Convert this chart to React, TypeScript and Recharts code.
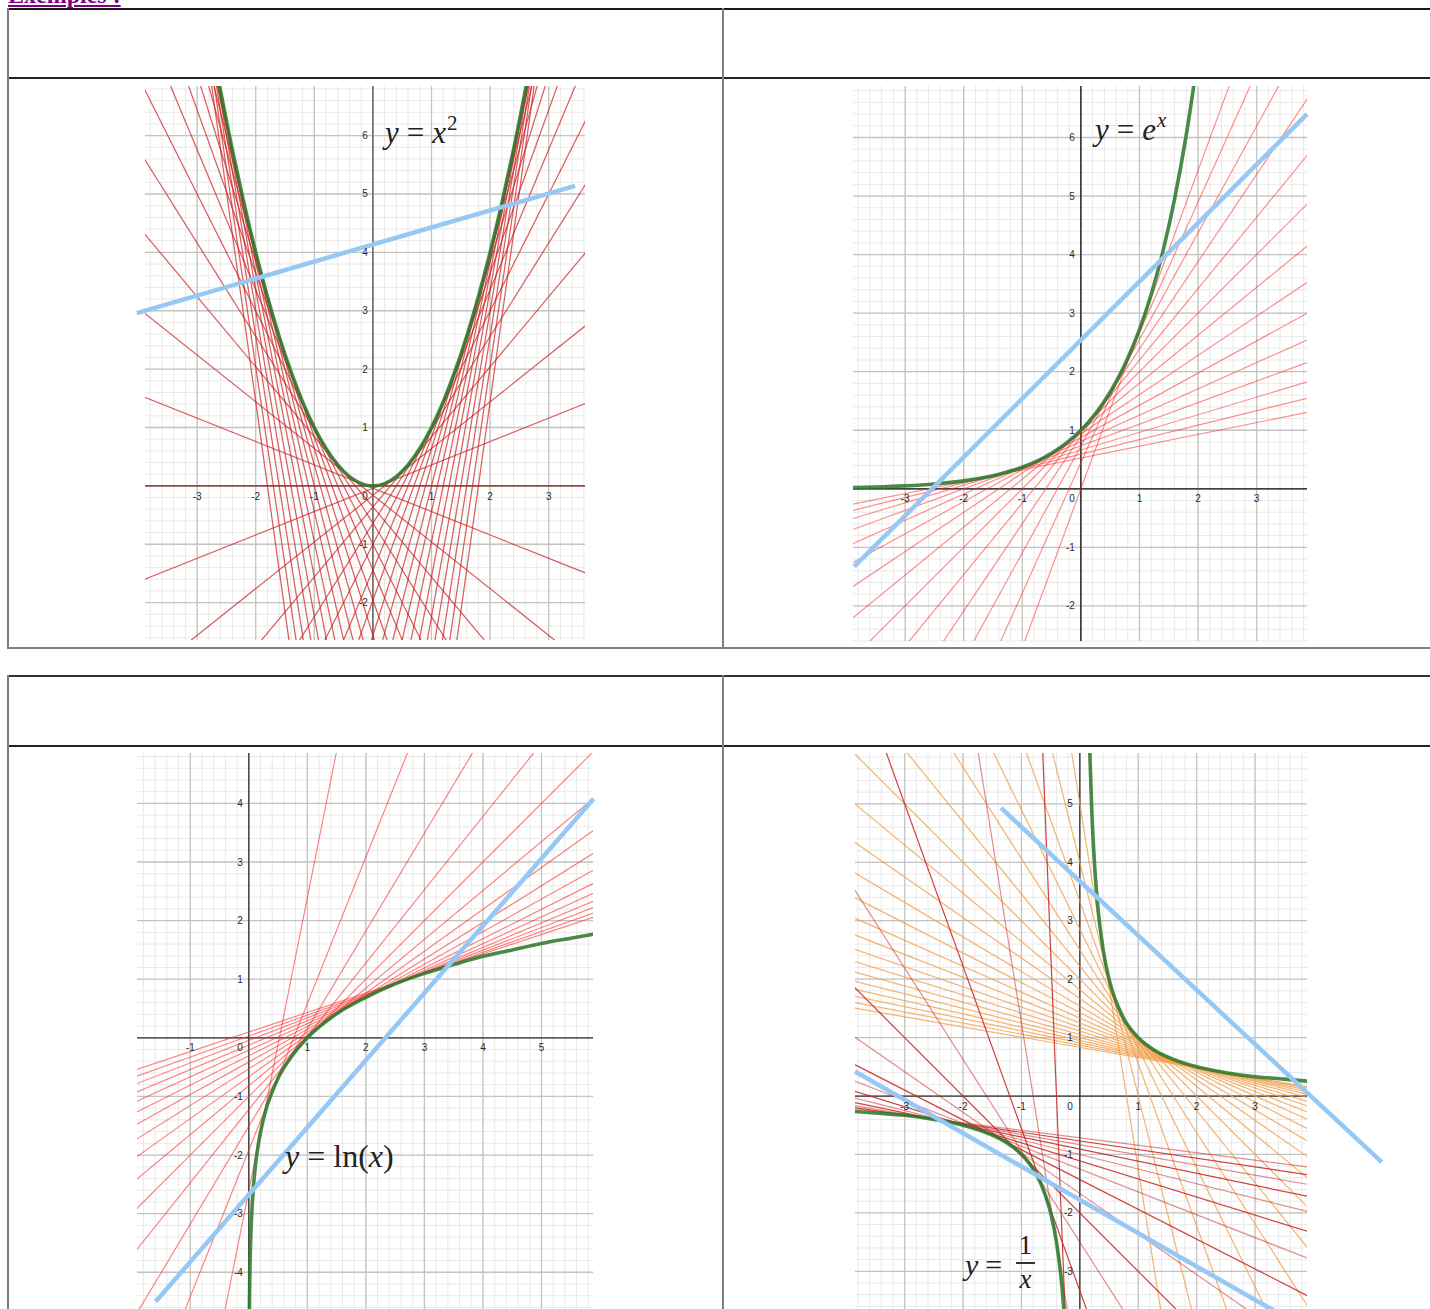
import React from "react";
import {
  ComposedChart,
  Line,
  XAxis,
  YAxis,
  CartesianGrid,
  ReferenceLine,
  ReferenceDot,
} from "recharts";

// ---------- y = x^2 ----------
const squareX = [-2.7, -2.4, -2.2, -2, -1.8, -1.6, -1.4, -1.2, -1, -0.8, -0.6, -0.4, -0.2, 0, 0.2, 0.4, 0.6, 0.8, 1, 1.2, 1.4, 1.6, 1.8, 2, 2.2, 2.4, 2.7];
const squareY = [7.29, 5.76, 4.84, 4, 3.24, 2.56, 1.96, 1.44, 1, 0.64, 0.36, 0.16, 0.04, 0, 0.04, 0.16, 0.36, 0.64, 1, 1.44, 1.96, 2.56, 3.24, 4, 4.84, 5.76, 7.29];
const squareSlopes = [-7.2, -6.8, -6.4, -6, -5.6, -5.2, -4.8, -4.4, -4, -3.6, -3.2, -2.8, -2.4, -2, -1.6, -1.2, -0.8, -0.4, 0, 0.4, 0.8, 1.2, 1.6, 2, 2.4, 2.8, 3.2, 3.6, 4, 4.4, 4.8, 5.2, 5.6, 6, 6.4, 6.8, 7.2];
const squareIntercepts = [-12.96, -11.56, -10.24, -9, -7.84, -6.76, -5.76, -4.84, -4, -3.24, -2.56, -1.96, -1.44, -1, -0.64, -0.36, -0.16, -0.04, 0, -0.04, -0.16, -0.36, -0.64, -1, -1.44, -1.96, -2.56, -3.24, -4, -4.84, -5.76, -6.76, -7.84, -9, -10.24, -11.56, -12.96];
const squareBlue = [{ x: -4.03, y: 2.96 }, { x: 3.45, y: 5.14 }];
const squareXTicks = [-3, -2, -1, 1, 2, 3];
const squareYTicks = [-2, -1, 1, 2, 3, 4, 5, 6];

// ---------- y = e^x ----------
const expX = [-3.95, -3.5, -3, -2.5, -2, -1.5, -1, -0.75, -0.5, -0.25, 0, 0.25, 0.5, 0.75, 1, 1.2, 1.4, 1.6, 1.8, 2];
const expY = [0.019, 0.03, 0.05, 0.082, 0.135, 0.223, 0.368, 0.472, 0.607, 0.779, 1, 1.284, 1.649, 2.117, 2.718, 3.32, 4.055, 4.953, 6.05, 7.389];
const expSlopes = [0.202, 0.247, 0.301, 0.368, 0.449, 0.549, 0.67, 0.819, 1, 1.221, 1.492, 1.822, 2.226, 2.718];
const expIntercepts = [0.525, 0.592, 0.663, 0.736, 0.808, 0.878, 0.938, 0.983, 1, 0.977, 0.895, 0.729, 0.445, 0];
const expBlue = [{ x: -3.87, y: -1.33 }, { x: 3.86, y: 6.4 }];
const expXTicks = [-3, -2, -1, 1, 2, 3];
const expYTicks = [-2, -1, 1, 2, 3, 4, 5, 6];

// ---------- y = ln(x) ----------
const lnX = [0.008, 0.01, 0.015, 0.02, 0.03, 0.05, 0.075, 0.1, 0.15, 0.2, 0.3, 0.4, 0.5, 0.7, 1, 1.5, 2, 2.5, 3, 3.5, 4, 4.5, 5, 5.5, 5.95];
const lnY = [-4.83, -4.61, -4.2, -3.91, -3.51, -3.0, -2.59, -2.3, -1.9, -1.61, -1.2, -0.92, -0.69, -0.36, 0, 0.41, 0.69, 0.92, 1.1, 1.25, 1.39, 1.5, 1.61, 1.7, 1.78];
const lnSlopes = [5, 2.5, 1.667, 1.25, 1, 0.833, 0.714, 0.625, 0.556, 0.5, 0.455, 0.417, 0.385, 0.357, 0.333];
const lnIntercepts = [-2.609, -1.916, -1.511, -1.223, -1, -0.818, -0.664, -0.53, -0.412, -0.307, -0.212, -0.125, -0.044, 0.03, 0.099];
const lnBlue = [{ x: -1.59, y: -4.5 }, { x: 5.89, y: 4.08 }];
const lnXTicks = [-1, 1, 2, 3, 4, 5];
const lnYTicks = [-4, -3, -2, -1, 1, 2, 3, 4];

// ---------- y = 1/x ----------
const invPosX = [0.165, 0.2, 0.25, 0.3, 0.4, 0.5, 0.6, 0.75, 1, 1.25, 1.5, 2, 2.5, 3, 3.5, 3.95];
const invPosY = [6.06, 5, 4, 3.33, 2.5, 2, 1.67, 1.33, 1, 0.8, 0.67, 0.5, 0.4, 0.33, 0.29, 0.25];
const invNegX = [-3.9, -3.5, -3, -2.5, -2, -1.5, -1.25, -1, -0.75, -0.6, -0.5, -0.4, -0.3, -0.25, -0.21];
const invNegY = [-0.26, -0.29, -0.33, -0.4, -0.5, -0.67, -0.8, -1, -1.33, -1.67, -2, -2.5, -3.33, -4, -4.76];
const invOrangeSlopes = [-6.25, -4, -2.778, -2.041, -1.563, -1.235, -1, -0.826, -0.694, -0.592, -0.51, -0.444, -0.391, -0.346, -0.309, -0.277, -0.25, -0.227, -0.207, -0.189, -0.174];
const invOrangeIntercepts = [5, 4, 3.333, 2.857, 2.5, 2.222, 2, 1.818, 1.667, 1.538, 1.429, 1.333, 1.25, 1.176, 1.111, 1.053, 1, 0.952, 0.909, 0.87, 0.833];
const invRedSlopes = [-25, -6.25, -2.778, -1.563, -1, -0.694, -0.51, -0.391, -0.309, -0.25, -0.207, -0.174, -0.148, -0.128];
const invRedIntercepts = [-10, -5, -3.333, -2.5, -2, -1.667, -1.429, -1.25, -1.111, -1, -0.909, -0.833, -0.769, -0.714];
const invBlueUpper = [{ x: -1.35, y: 4.93 }, { x: 5.17, y: -1.13 }];
const invBlueLower = [{ x: -3.85, y: 0.42 }, { x: 3.6, y: -3.83 }];
const invXTicks = [-3, -2, -1, 1, 2, 3];
const invYTicks = [-3, -2, -1, 1, 2, 3, 4, 5];

type Pt = { x: number; y: number };
const zip = (xs: number[], ys: number[]): Pt[] => xs.map((x, i) => ({ x, y: ys[i] }));

// grid positions (every 0.2 and every 1)
const gridValues = (lo: number, hi: number, step: number) => {
  const out: number[] = [];
  for (let i = Math.ceil(lo / step - 1e-9); i * step <= hi + 1e-9; i++) {
    out.push(Math.round(i * step * 100) / 100);
  }
  return out;
};

interface Family {
  slopes: number[];
  intercepts: number[];
  color: string;
  opacity: number[];
  width: number;
}

interface PanelProps {
  left: number;
  top: number;
  width: number;
  height: number;
  margin: { top: number; right: number; bottom: number; left: number };
  xDomain: [number, number];
  yDomain: [number, number];
  xTicks: number[];
  yTicks: number[];
  families: Family[];
  curves: Pt[][];
  blue: Pt[][];
  axisColor: string;
  xLabelDy: number;
  yLabelDx: number;
}

const labelFont = '"Liberation Sans", Arial, sans-serif';

function Panel(p: PanelProps) {
  const [xa, xb] = p.xDomain;
  const [ya, yb] = p.yDomain;
  const seg = (m: number, b: number): Pt[] => [
    { x: xa - 1, y: m * (xa - 1) + b },
    { x: xb + 1, y: m * (xb + 1) + b },
  ];
  const tickText = (txt: string, dx: number, dy: number, anchor: string) => (props: any) => (
    <text
      x={props.cx + dx}
      y={props.cy + dy}
      textAnchor={anchor}
      dominantBaseline="central"
      fontSize={10}
      fontFamily={labelFont}
      fill="#2a2a2a"
    >
      {txt}
    </text>
  );

  return (
    <div style={{ position: "absolute", left: p.left, top: p.top }}>
      <ComposedChart width={p.width} height={p.height} margin={p.margin}>
        <XAxis type="number" dataKey="x" domain={p.xDomain} allowDataOverflow hide interval={0} />
        <YAxis type="number" dataKey="y" domain={p.yDomain} allowDataOverflow hide interval={0} />
        <CartesianGrid
          verticalValues={gridValues(xa, xb, 0.2)}
          horizontalValues={gridValues(ya, yb, 0.2)}
          stroke="#e9e9e9"
          strokeWidth={1}
        />
        <CartesianGrid
          verticalValues={gridValues(xa, xb, 1)}
          horizontalValues={gridValues(ya, yb, 1)}
          stroke="#c4c4c4"
          strokeWidth={1.3}
        />
        <Line
          data={[{ x: xa - 1, y: 0 }, { x: xb + 1, y: 0 }]}
          dataKey="y"
          type="linear"
          stroke={p.axisColor}
          strokeWidth={1.3}
          dot={false}
          activeDot={false}
          isAnimationActive={false}
        />
        <Line
          data={[{ x: 0, y: ya - 1 }, { x: 0, y: yb + 1 }]}
          dataKey="y"
          type="linear"
          stroke={p.axisColor}
          strokeWidth={1.3}
          dot={false}
          activeDot={false}
          isAnimationActive={false}
        />
        {p.families.flatMap((f, fi) =>
          f.slopes.map((m, i) => (
            <Line
              key={`t${fi}-${i}`}
              data={seg(m, f.intercepts[i])}
              dataKey="y"
              type="linear"
              stroke={f.color}
              strokeOpacity={f.opacity[i % f.opacity.length]}
              strokeWidth={f.width}
              dot={false}
              activeDot={false}
              isAnimationActive={false}
            />
          ))
        )}
        {p.curves.map((c, i) => (
          <Line
            key={`c${i}`}
            data={c}
            dataKey="y"
            type="monotone"
            stroke="#2f7a2f"
            strokeOpacity={0.88}
            strokeWidth={3.6}
            dot={false}
            activeDot={false}
            isAnimationActive={false}
          />
        ))}
        {p.blue.map((s, i) => (
          <ReferenceLine
            key={`b${i}`}
            segment={s}
            stroke="#96c8f6"
            strokeWidth={4.5}
            ifOverflow="visible"
            zIndex={1500}
          />
        ))}
        {p.xTicks.map((v) => (
          <ReferenceDot
            key={`xt${v}`}
            x={v}
            y={0}
            r={1}
            zIndex={1600}
            shape={tickText(String(v), 0, p.xLabelDy, "middle")}
          />
        ))}
        {p.yTicks.map((v) => (
          <ReferenceDot
            key={`yt${v}`}
            x={0}
            y={v}
            r={1}
            zIndex={1600}
            shape={tickText(String(v), p.yLabelDx, 0, "end")}
          />
        ))}
        <ReferenceDot
          x={0}
          y={0}
          r={1}
          zIndex={1600}
          shape={tickText("0", p.yLabelDx, p.xLabelDy, "end")}
        />
      </ComposedChart>
    </div>
  );
}

const mathFont = '"Liberation Serif", "DejaVu Serif", serif';

const rule = (l: number, t: number, w: number, h: number, c: string) => (
  <div style={{ position: "absolute", left: l, top: t, width: w, height: h, background: c }} />
);

export default function App() {
  return (
    <div
      style={{
        position: "fixed",
        left: 0,
        top: 0,
        width: 1430,
        height: 1309,
        overflow: "hidden",
        background: "#fff",
      }}
    >
      <div
        style={{
          position: "absolute",
          left: 8,
          top: -17,
          fontFamily: mathFont,
          fontWeight: "bold",
          fontSize: 24,
          lineHeight: "24px",
          color: "#800080",
          textDecoration: "underline",
          whiteSpace: "nowrap",
        }}
      >
        Exemples :
      </div>

      {/* table 1 */}
      {rule(8, 8, 1430, 2, "#1a1a1a")}
      {rule(8, 77, 1430, 2, "#222")}
      {rule(7, 8, 2, 641, "#7d7d7d")}
      {rule(722, 8, 2, 641, "#808080")}
      {rule(7, 647, 1430, 2, "#808080")}

      {/* table 2 */}
      {rule(8, 675, 1430, 2, "#333")}
      {rule(8, 745, 1430, 1.5, "#222")}
      {rule(7, 675, 2, 640, "#7d7d7d")}
      {rule(722, 675, 2, 640, "#808080")}

      <Panel
        left={128}
        top={80}
        width={474}
        height={566}
        margin={{ left: 17, right: 17, top: 6, bottom: 6 }}
        xDomain={[-3.89, 3.62]}
        yDomain={[-2.64, 6.85]}
        xTicks={squareXTicks}
        yTicks={squareYTicks}
        families={[
          { slopes: squareSlopes, intercepts: squareIntercepts, color: "#cc2020", opacity: [0.72], width: 1.25 },
        ]}
        curves={[zip(squareX, squareY)]}
        blue={[squareBlue]}
        axisColor="#555"
        xLabelDy={11}
        yLabelDx={-5}
      />

      <Panel
        left={838}
        top={80}
        width={484}
        height={566}
        margin={{ left: 15, right: 15, top: 6, bottom: 5 }}
        xDomain={[-3.89, 3.86]}
        yDomain={[-2.6, 6.88]}
        xTicks={expXTicks}
        yTicks={expYTicks}
        families={[
          { slopes: expSlopes, intercepts: expIntercepts, color: "#ff2a2a", opacity: [0.55], width: 1.15 },
        ]}
        curves={[zip(expX, expY)]}
        blue={[expBlue]}
        axisColor="#111"
        xLabelDy={10}
        yLabelDx={-6}
      />

      <Panel
        left={122}
        top={747}
        width={486}
        height={590}
        margin={{ left: 15, right: 15, top: 6, bottom: 12 }}
        xDomain={[-1.91, 5.88]}
        yDomain={[-4.9, 4.86]}
        xTicks={lnXTicks}
        yTicks={lnYTicks}
        families={[
          { slopes: lnSlopes, intercepts: lnIntercepts, color: "#ff2a2a", opacity: [0.6], width: 1.15 },
        ]}
        curves={[zip(lnX, lnY)]}
        blue={[lnBlue]}
        axisColor="#333"
        xLabelDy={10}
        yLabelDx={-6}
      />

      <Panel
        left={840}
        top={747}
        width={560}
        height={620}
        margin={{ left: 15, right: 93, top: 6, bottom: 8 }}
        xDomain={[-3.85, 3.89]}
        yDomain={[-4.5, 5.87]}
        xTicks={invXTicks}
        yTicks={invYTicks}
        families={[
          { slopes: invOrangeSlopes, intercepts: invOrangeIntercepts, color: "#f29a40", opacity: [0.75], width: 1.2 },
          { slopes: invRedSlopes, intercepts: invRedIntercepts, color: "#c81e1e", opacity: [0.85, 0.5], width: 1.2 },
        ]}
        curves={[zip(invNegX, invNegY), zip(invPosX, invPosY)]}
        blue={[invBlueUpper, invBlueLower]}
        axisColor="#333"
        xLabelDy={10}
        yLabelDx={-7}
      />

      {/* equation labels */}
      <div style={{ position: "absolute", left: 385, top: 117, fontFamily: mathFont, fontSize: 31, lineHeight: 1, color: "#222", whiteSpace: "nowrap" }}>
        <i>y</i>
        <span style={{ margin: "0 8px" }}>=</span>
        <i>x</i>
        <span style={{ fontSize: 21, position: "relative", top: -13, marginLeft: 1 }}>2</span>
      </div>
      <div style={{ position: "absolute", left: 1095, top: 114, fontFamily: mathFont, fontSize: 31, lineHeight: 1, color: "#222", whiteSpace: "nowrap" }}>
        <i>y</i>
        <span style={{ margin: "0 8px" }}>=</span>
        <i>e</i>
        <i style={{ fontSize: 21, position: "relative", top: -13, marginLeft: 1 }}>x</i>
      </div>
      <div style={{ position: "absolute", left: 285, top: 1140, fontFamily: mathFont, fontSize: 32, lineHeight: 1, color: "#222", whiteSpace: "nowrap" }}>
        <i>y</i>
        <span style={{ margin: "0 8px" }}>=</span>
        <span>ln(</span>
        <i>x</i>
        <span>)</span>
      </div>
      <div style={{ position: "absolute", left: 965, top: 1250, fontFamily: mathFont, fontSize: 30, lineHeight: 1, color: "#222", whiteSpace: "nowrap" }}>
        <i>y</i>
        <span style={{ margin: "0 7px" }}>=</span>
      </div>
      <div style={{ position: "absolute", left: 1016, top: 1232, width: 19, fontFamily: mathFont, fontSize: 27, lineHeight: 1, color: "#222", textAlign: "center" }}>
        <div>1</div>
        <div style={{ height: 1.5, background: "#333", margin: "3px 0 2px" }} />
        <div style={{ fontStyle: "italic" }}>x</div>
      </div>
    </div>
  );
}
